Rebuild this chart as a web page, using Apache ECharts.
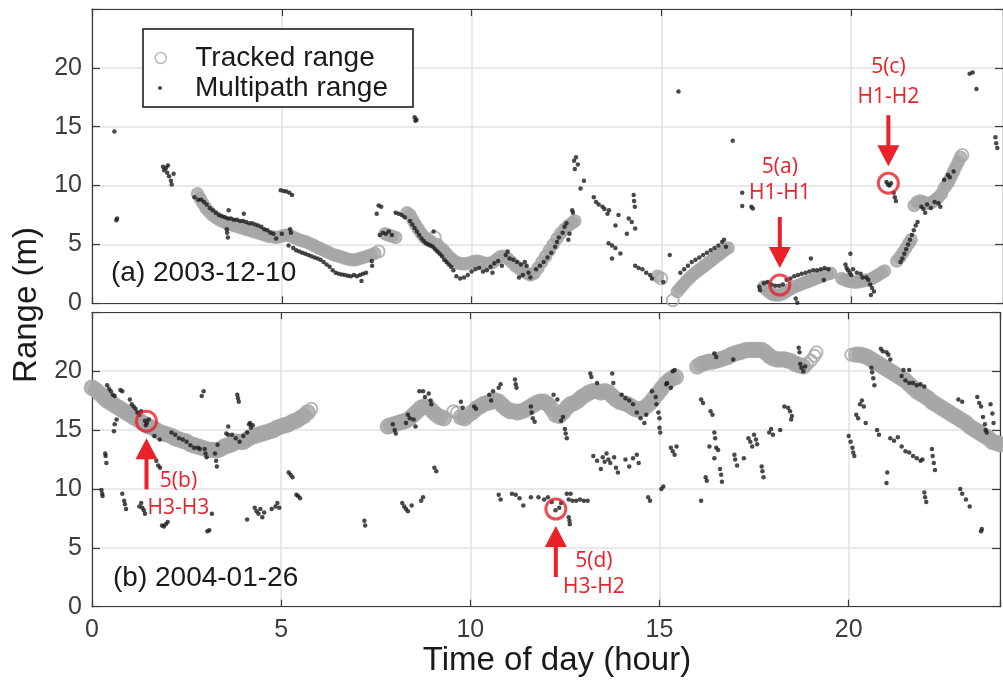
<!DOCTYPE html>
<html><head><meta charset="utf-8">
<script src="https://cdn.jsdelivr.net/npm/echarts@6/dist/echarts.min.js"></script>
<style>html,body{margin:0;padding:0;background:#fff}#c{width:1003px;height:682px}</style>
</head><body><div id="c"></div>
<script>
// ---------------- DATA ----------------
const xTickStep = 5;          // hours
const yTickStep = 5;          // metres
const xRange = [0, 24];
const yRange = [0, 25];
const panelLabels = ['(a) 2003-12-10', '(b) 2004-01-26'];
const seriesNames = ['Tracked range', 'Multipath range'];
const xTitle = 'Time of day (hour)';
const yTitle = 'Range (m)';

// Panel (a): tracked range (hour, metres)
const trackedA = [
 [2.78,9.3],[2.85,8.9],[2.92,8.5],[3.0,8.1],[3.08,7.8],[3.17,7.5],[3.26,7.3],[3.35,7.1],[3.45,6.95],[3.55,6.8],
 [3.65,6.7],[3.75,6.6],[3.85,6.5],[3.95,6.4],[4.05,6.3],[4.15,6.2],[4.25,6.1],[4.35,6.0],[4.45,5.9],[4.55,5.8],
 [4.65,5.7],[4.75,5.65],[4.85,5.6],[4.95,5.65],[5.05,5.75],[5.15,5.8],[5.25,5.7],[5.35,5.55],[5.45,5.4],[5.55,5.3],
 [5.65,5.2],[5.75,5.05],[5.85,4.9],[5.95,4.75],[6.05,4.6],[6.15,4.45],[6.25,4.3],[6.35,4.15],[6.45,4.05],[6.55,3.95],
 [6.65,3.85],[6.75,3.75],[6.85,3.7],[6.95,3.7],[7.05,3.8],[7.15,3.9],[7.25,4.0],[7.35,4.1],[7.45,4.25],
 [7.72,5.9],[7.8,5.8],[7.9,5.7],[8.0,5.6],
 [8.3,7.7],[8.38,7.5],[8.45,7.1],[8.52,6.7],[8.6,6.3],[8.68,5.9],[8.76,5.6],[8.84,5.4],[8.92,5.3],[9.1,5.0],
 [9.18,4.7],[9.26,4.5],[9.34,4.2],[9.42,3.9],[9.5,3.7],[9.58,3.5],[9.66,3.4],[9.75,3.35],[9.85,3.35],[9.95,3.45],
 [10.05,3.55],[10.15,3.6],[10.25,3.5],[10.35,3.4],[10.45,3.4],[10.55,3.45],[10.65,3.7],[10.75,3.95],[10.85,4.0],[10.95,3.8],
 [11.05,3.5],[11.15,3.2],[11.25,2.95],[11.35,2.75],[11.45,2.55],[11.55,2.4],[11.65,2.55],[11.75,3.0],[11.85,3.5],[11.95,4.0],
 [12.05,4.5],[12.15,5.0],[12.25,5.5],[12.35,5.95],[12.45,6.3],[12.55,6.6],[12.65,6.85],[12.72,7.0],
 [14.9,2.3],[15.42,1.0],[15.5,1.3],[15.58,1.6],[15.66,1.9],[15.74,2.15],[15.82,2.4],[15.9,2.6],[15.98,2.8],[16.06,3.0],
 [16.14,3.2],[16.22,3.4],[16.3,3.6],[16.38,3.8],[16.46,4.0],[16.54,4.2],[16.62,4.4],[16.7,4.6],[16.76,4.7],
 [17.7,1.4],[17.78,1.1],[17.86,0.9],[17.94,0.75],[18.02,0.7],[18.1,0.7],[18.18,0.8],[18.26,0.95],[18.34,1.1],[18.42,1.25],
 [18.5,1.4],[18.58,1.5],[18.66,1.6],[18.74,1.7],[18.82,1.8],[18.9,1.9],[18.98,2.0],[19.06,2.1],[19.14,2.2],[19.22,2.3],
 [19.3,2.4],[19.38,2.5],[19.46,2.55],
 [19.75,2.1],[19.83,2.0],[19.91,1.9],[19.99,1.85],[20.07,1.8],[20.15,1.8],[20.23,1.85],[20.31,1.9],[20.39,1.95],[20.47,2.0],
 [20.55,2.1],[20.63,2.25],[20.71,2.4],[20.8,2.6],[20.88,2.75],
 [21.2,3.6],[21.28,3.9],[21.36,4.3],[21.44,4.7],[21.52,5.1],[21.58,5.4],
 [21.66,8.3],[21.74,8.6],[21.82,8.7],[21.9,8.6],[21.98,8.5],[22.06,8.5],[22.14,8.6],[22.22,8.8],[22.3,9.0],[22.38,9.3],
 [22.45,9.8],[22.52,10.1],[22.58,10.4],[22.64,10.8],[22.7,11.2],[22.76,11.6],[22.82,12.0],[22.88,12.4]
];
// Panel (a): isolated tracked points (open circles)
const trackedAOpen = [[7.55,4.4],[9.03,5.6],[15.0,2.1],[15.3,0.25],[22.93,12.6]];

// Panel (a): multipath range
const multipathA = [
 [0.59,14.6],[0.64,7.06],[0.66,7.2],
 [1.87,11.6],[1.9,11.3],[1.95,11.5],[1.98,11.1],[2.03,10.8],[2.08,10.4],[2.1,10.1],[2.15,11.0],[2.0,11.7],
 [2.7,9.0],[2.8,8.8],[2.88,8.8],[2.95,8.6],[3.02,8.4],[3.1,8.1],[3.18,7.9],[3.26,7.7],[3.34,7.5],[3.42,7.4],[3.5,7.3],
 [3.58,7.2],[3.66,7.2],[3.74,7.1],[3.82,7.1],[3.9,7.0],[3.98,7.0],[4.06,6.9],[4.14,6.8],[4.22,6.8],[4.3,6.7],
 [4.38,6.6],[4.46,6.5],[4.54,6.3],[4.62,6.2],[4.7,6.0],[4.78,5.9],[3.55,6.3],[3.56,6.0],[3.58,5.6],[3.6,7.9],
 [4.0,7.6],[5.0,5.9],[4.85,5.5],
 [4.97,9.6],[5.05,9.55],[5.12,9.5],[5.2,9.4],[5.27,9.2],
 [5.22,6.3],[5.24,6.0],[5.18,4.9],
 [5.3,4.7],[5.38,4.5],[5.46,4.4],[5.54,4.3],[5.62,4.2],[5.7,4.1],[5.78,4.0],[5.86,3.9],[5.94,3.8],[6.02,3.7],
 [6.1,3.5],[6.18,3.3],[6.26,3.1],[6.34,2.8],[6.42,2.6],[6.5,2.5],[6.58,2.45],[6.66,2.4],[6.74,2.35],[6.82,2.3],
 [6.9,2.4],[6.98,2.3],[7.06,2.4],[7.14,2.5],[7.22,2.6],[7.1,1.9],[7.37,3.6],[7.38,3.2],
 [7.5,7.6],[7.62,8.2],[7.55,8.3],
 [7.58,5.8],[7.66,6.0],[7.74,5.9],[7.82,6.1],[7.9,5.8],
 [8.0,7.7],[8.08,7.6],[8.16,7.5],[8.24,7.3],
 [8.5,15.8],[8.55,15.6],[8.52,15.5],
 [8.38,7.0],[8.44,6.7],[8.5,6.4],[8.56,6.1],[8.62,5.8],[8.68,5.5],[8.74,5.3],[8.8,5.1],[8.86,5.0],[8.92,4.9],
 [8.98,4.8],[9.04,4.6],[9.1,4.4],[9.16,4.2],[9.22,4.0],[9.28,3.7],[9.34,3.5],[9.4,3.3],[9.46,3.1],[9.52,2.8],[9.0,6.1],
 [9.6,2.3],[9.7,2.1],[9.8,2.2],[9.9,2.4],
 [10.0,2.7],[10.1,2.9],[10.2,3.0],[10.3,2.7],[10.4,2.8],[10.5,3.1],[10.55,2.6],[10.6,3.4],[10.7,3.6],[10.8,3.2],
 [10.9,4.1],[10.95,4.4],[11.0,3.8],[11.1,3.7],[11.2,3.5],[11.3,3.3],[11.4,3.5],[11.45,3.2],
 [11.35,2.4],[11.5,2.6],[11.55,2.2],[11.25,2.2],
 [11.7,2.9],[11.8,3.2],[11.9,3.5],[12.0,3.9],[12.1,4.3],[12.2,4.8],[12.25,5.2],
 [12.3,5.6],[12.4,6.0],[12.45,6.5],[12.5,6.8],[12.65,7.9],[12.67,7.7],[12.58,5.9],[12.55,5.4],
 [12.7,12.1],[12.75,12.4],[12.8,11.8],[12.72,11.4],[12.96,10.4],[12.87,9.75],
 [13.22,9.0],[13.28,8.6],[13.35,8.4],[13.45,8.2],[13.5,8.0],[13.58,7.6],[13.62,7.9],
 [13.87,7.5],[13.79,6.6],[14.14,7.2],[14.22,6.9],[14.27,9.2],[14.28,8.7],[14.3,8.2],[14.31,6.35],[14.09,5.9],
 [13.61,5.1],[13.7,4.9],[13.79,4.7],[13.92,4.24],[13.7,3.8],
 [14.31,3.2],[14.4,3.0],[14.5,2.9],[14.6,2.6],[14.7,2.4],[14.75,2.1],
 [15.22,4.1],[15.05,1.8],[15.45,18.0],
 [15.5,2.6],[15.6,2.9],[15.7,3.2],[15.8,3.5],[15.9,3.7],[16.0,3.9],[16.1,4.1],[16.2,4.3],[16.3,4.5],[16.4,4.7],
 [16.5,4.9],[16.6,5.2],[16.65,5.4],[16.7,4.8],
 [16.88,13.8],[17.13,9.4],[17.13,8.27],[17.41,8.05],[17.37,8.2],
 [17.58,1.4],[17.6,1.1],
 [17.7,1.7],[17.8,1.8],[17.9,1.6],[18.0,1.5],[18.1,1.5],[18.2,1.6],
 [18.3,2.0],[18.4,2.1],[18.5,2.3],[18.6,2.4],[18.7,2.5],[18.8,2.6],[18.9,2.7],[19.0,2.8],[19.1,2.8],[19.2,2.9],
 [19.3,3.0],[19.4,2.9],[18.94,3.8],[19.28,1.97],[18.54,0.4],[18.58,0.05],
 [19.98,4.2],[19.85,3.3],[19.88,3.0],[19.92,2.8],[19.96,2.6],[20.0,2.4],[20.05,2.9],[20.15,2.6],[20.25,2.5],[20.3,2.2],
 [20.4,2.2],[20.45,2.0],[20.5,1.6],[20.55,1.3],[20.6,1.0],[20.52,0.7],
 [20.93,10.3],[20.97,10.1],[21.01,10.0],[21.05,10.2],[21.12,9.4],[21.15,9.0],[21.18,8.7],
 [21.3,3.5],[21.35,3.8],[21.4,4.2],[21.45,4.6],[21.5,5.0],[21.55,5.4],[21.6,5.8],[21.65,6.2],[21.7,6.6],[21.75,6.9],
 [21.85,8.2],[21.9,8.0],[21.95,7.7],[22.0,8.4],[22.1,8.1],[22.2,8.6],[22.3,8.5],[22.35,8.2],
 [22.45,10.5],[22.55,10.9],[22.6,10.7],[22.7,11.2],
 [23.12,19.5],[23.2,19.6],[23.3,18.2],
 [23.8,14.1],[23.82,13.6],[23.85,13.2]
];

// Panel (b): tracked range
const trackedB = [
 [0.0,18.6],[0.1,18.4],[0.2,18.1],[0.3,17.8],[0.4,17.5],[0.5,17.3],[0.6,17.1],[0.7,16.9],[0.8,16.7],[0.9,16.5],
 [1.0,16.3],[1.1,16.1],[1.2,15.9],[1.3,15.7],[1.4,15.5],[1.5,15.3],[1.6,15.2],[1.7,15.0],[1.8,14.8],[1.9,14.7],
 [2.0,14.6],[2.1,14.5],[2.2,14.3],[2.3,14.2],[2.4,14.1],[2.5,14.0],[2.6,13.8],[2.7,13.7],[2.8,13.6],[2.9,13.5],
 [3.0,13.4],[3.1,13.3],[3.2,13.3],[3.3,13.3],[3.4,13.4],[3.5,13.6],[3.6,13.7],[3.7,13.8],[3.8,14.0],[3.9,14.0],
 [4.0,14.0],[4.1,14.2],[4.2,14.4],[4.3,14.5],[4.4,14.6],[4.5,14.7],[4.6,14.8],[4.7,14.9],[4.8,15.0],[4.9,15.2],
 [5.0,15.3],[5.1,15.4],[5.2,15.5],[5.3,15.7],[5.4,15.8],[5.5,16.0],[5.6,16.2],[5.7,16.5],
 [7.82,15.3],[7.9,15.4],[8.0,15.5],[8.1,15.6],[8.2,15.7],[8.3,15.8],[8.4,16.0],[8.5,16.3],[8.6,16.6],[8.7,16.9],
 [8.8,17.0],[8.9,16.9],[9.0,16.6],[9.1,16.3],[9.2,16.1],[9.3,16.0],[9.75,16.1],[9.85,16.0],
 [10.05,16.5],[10.15,16.8],[10.25,17.0],[10.35,17.2],[10.45,17.3],[10.55,17.4],[10.65,17.5],[10.75,17.4],[10.85,17.1],[10.95,16.8],
 [11.05,16.6],[11.15,16.6],[11.25,16.5],[11.35,16.6],[11.45,16.7],[11.55,16.9],[11.65,17.1],[11.75,17.3],[11.85,17.4],[11.95,17.4],
 [12.05,17.2],[12.15,16.8],[12.25,16.3],[12.35,16.2],[12.45,16.5],[12.55,16.9],[12.65,17.2],[12.75,17.3],[12.85,17.5],[12.95,17.8],
 [13.05,18.0],[13.15,18.2],[13.25,18.3],[13.35,18.3],[13.45,18.2],[13.55,18.3],[13.65,18.2],[13.75,17.9],[13.85,17.6],[13.95,17.4],
 [14.05,17.3],[14.15,17.2],[14.25,17.0],[14.35,16.8],[14.45,16.7],[14.55,16.8],[14.65,17.0],[14.75,17.3],[14.85,17.7],[14.95,18.1],
 [15.05,18.5],[15.15,18.9],[15.25,19.2],[15.35,19.4],[15.43,19.5],
 [16.0,20.4],[16.1,20.6],[16.2,20.7],[16.3,20.8],[16.4,20.8],[16.5,20.9],[16.6,21.0],[16.7,21.1],[16.8,21.2],[16.9,21.4],
 [17.0,21.5],[17.1,21.6],[17.2,21.7],[17.3,21.8],[17.4,21.8],[17.5,21.8],[17.6,21.8],[17.7,21.8],[17.8,21.6],[17.9,21.3],
 [18.0,21.1],[18.1,21.0],[18.2,21.0],[18.3,21.0],[18.4,20.9],[18.5,20.8],[18.6,20.6],[18.7,20.5],[18.8,20.4],
 [20.2,21.4],[20.3,21.4],[20.4,21.3],[20.5,21.2],[20.6,21.0],[20.7,20.8],[20.8,20.6],[20.9,20.4],[21.0,20.2],[21.1,20.0],
 [21.2,19.8],[21.3,19.6],[21.4,19.4],[21.5,19.2],[21.6,18.9],[21.7,18.6],[21.8,18.3],[21.9,18.1],[22.0,17.9],[22.1,17.7],
 [22.2,17.4],[22.3,17.2],[22.4,17.0],[22.5,16.8],[22.6,16.6],[22.7,16.4],[22.8,16.2],[22.9,16.0],[23.0,15.8],[23.1,15.6],
 [23.2,15.3],[23.3,15.1],[23.4,14.9],[23.5,14.7],[23.6,14.5],[23.7,14.3],[23.8,14.0],[23.9,13.9],[24.0,13.8]
];
const trackedBOpen = [[5.8,16.8],[9.55,16.6],[9.65,16.5],[9.95,16.2],[18.9,20.6],[19.0,20.9],[19.1,21.3],[19.15,21.6],[20.07,21.4]];

// Panel (b): multipath range
const multipathB = [
 [0.4,18.8],[0.45,18.5],[0.5,18.3],[0.55,18.0],[0.6,17.9],[0.75,18.4],[0.8,18.3],
 [1.0,17.6],[1.05,17.2],[1.1,17.0],[1.15,16.8],[1.2,16.5],[1.25,16.3],[1.3,16.6],
 [0.65,15.9],[0.6,15.5],[0.58,14.9],
 [1.4,15.8],[1.45,15.6],[1.5,15.9],[1.42,15.4],
 [1.7,12.4],[1.75,12.0],[1.8,11.8],[1.65,14.5],[1.79,14.2],
 [0.35,13.0],[0.36,12.8],[0.38,12.2],
 [0.25,9.9],[0.27,9.6],[0.28,9.4],
 [0.8,9.6],[0.85,9.0],[0.87,8.7],[0.9,8.3],
 [1.25,8.5],[1.3,8.8],[1.33,8.4],[1.37,8.2],[1.4,7.9],
 [1.85,6.9],[1.9,6.8],[1.95,7.0],[2.0,7.2],
 [3.17,7.9],[3.05,6.4],[3.1,6.5],
 [2.9,17.9],[2.95,18.3],[3.84,18.0],[3.86,17.7],[3.88,17.4],
 [2.1,14.8],[2.2,14.6],[2.3,14.3],[2.4,14.2],[2.5,14.0],[2.6,13.7],[2.7,13.5],[2.8,13.5],[2.85,13.4],
 [2.98,13.4],[3.0,13.0],[3.03,12.7],[3.25,13.0],[3.28,12.4],[3.3,11.9],[3.32,13.75],
 [3.55,14.7],[3.6,14.6],[3.7,14.6],[3.8,14.3],[3.9,14.0],[4.0,14.5],[4.1,14.8],[4.2,15.2],[4.25,15.4],[4.15,15.5],
 [3.6,15.3],[4.18,15.6],
 [5.2,11.4],[5.25,11.2],[5.3,11.0],
 [5.4,9.5],[5.45,9.4],[5.5,9.2],
 [4.3,8.4],[4.35,8.1],[4.4,7.9],[4.45,8.3],[4.5,7.6],[4.55,8.0],
 [4.1,7.4],[4.75,8.3],[4.85,8.5],[4.9,8.8],[4.95,8.4],
 [7.2,7.3],[7.22,6.9],
 [7.95,15.5],[8.0,15.0],[8.03,14.7],
 [8.3,15.6],[8.35,16.3],[8.4,16.0],[8.5,15.9],[8.55,15.3],
 [8.65,18.3],[8.75,18.3],[8.8,17.8],[8.9,18.1],[8.95,17.5],[8.97,17.2],
 [9.05,11.8],[9.1,11.5],
 [8.75,9.3],[8.7,9.0],
 [8.2,8.8],[8.25,8.5],[8.3,8.3],[8.35,8.1],[8.45,8.6],
 [9.75,17.4],[9.8,16.9],[10.1,17.0],[10.15,16.8],
 [10.5,18.0],[10.55,17.5],[10.6,18.3],[10.75,18.6],[10.8,18.9],
 [11.18,19.3],[11.2,18.9],[11.22,18.6],
 [11.6,17.0],[11.62,16.5],[11.65,16.0],[11.7,15.7],
 [12.2,18.0],[12.3,17.6],[12.4,15.8],[12.45,16.1],
 [12.5,15.1],[12.52,14.7],[12.55,14.3],
 [13.17,19.8],[13.2,19.5],[13.35,19.0],
 [13.75,19.8],[13.78,19.0],
 [14.0,18.0],[14.1,17.7],[14.2,17.5],[14.3,17.2],
 [14.4,16.5],[14.5,16.0],[14.6,15.6],[14.65,16.3],
 [14.8,18.3],[14.9,17.8],[14.92,17.2],
 [14.97,16.5],[15.0,16.0],[15.0,15.2],[15.02,14.8],
 [15.35,20.0],[15.4,20.1],[15.2,19.0],[15.3,18.6],[15.18,18.9],
 [15.3,13.5],[15.35,13.2],[15.4,12.9],[15.45,13.6],
 [15.05,10.0],[15.1,10.2],
 [14.7,9.3],[14.75,9.0],
 [13.25,12.8],[13.35,12.4],[13.45,11.7],[13.5,12.7],[13.55,12.3],[13.6,13.0],[13.65,12.5],[13.7,12.2],
 [13.8,12.7],[13.85,11.8],[13.9,11.4],[14.1,12.5],[14.2,11.9],[14.3,12.6],[14.4,12.9],[14.45,12.2],
 [10.75,9.5],[10.8,9.1],[11.1,9.6],[11.2,9.5],[11.3,9.2],[11.4,8.6],[11.6,9.3],[11.8,9.3],[11.95,9.1],
 [12.05,9.3],[12.15,8.9],[12.4,8.8],[12.6,9.1],[12.7,9.0],[12.8,9.0],[12.9,9.1],[13.0,9.0],[13.1,9.0],
 [12.55,9.6],[12.65,9.6],[12.6,7.6],[12.62,7.3],[12.63,7.0],[12.25,8.2],[12.35,8.4],
 [16.45,21.5],[16.5,21.2],[16.95,21.0],
 [18.68,22.0],[18.7,21.6],[18.72,20.6],[18.75,20.3],[18.8,20.0],[18.85,20.4],
 [16.1,17.6],[16.15,17.3],[16.35,16.6],[16.4,16.3],
 [16.45,14.8],[16.47,14.3],[16.5,13.5],[16.55,13.3],[16.32,13.6],[16.45,12.6],
 [16.22,11.0],[16.25,10.7],[16.1,9.0],
 [16.6,11.7],[16.63,11.2],[16.65,10.6],
 [16.98,12.9],[17.0,12.5],[17.05,12.0],[17.23,12.6],
 [17.7,11.9],[17.72,11.5],[17.75,11.0],
 [17.35,14.3],[17.4,14.0],[17.45,13.6],[17.5,14.6],[17.55,14.2],[17.58,13.8],
 [17.9,14.8],[17.95,15.1],[18.0,14.6],[18.19,15.0],
 [18.3,17.0],[18.4,16.9],[18.45,16.6],[18.5,16.2],[18.48,15.9],
 [20.0,14.5],[20.05,14.0],[20.1,13.5],[20.12,13.1],[20.15,12.8],
 [20.2,16.3],[20.25,16.0],[20.3,17.2],[20.35,17.5],[20.4,17.0],[20.45,15.6],
 [20.6,20.3],[20.62,19.9],[20.65,19.4],[20.68,18.8],
 [20.85,21.9],[20.9,21.7],[21.0,21.6],[21.05,21.4],[21.1,21.0],
 [20.75,15.0],[20.8,14.6],
 [21.1,14.3],[21.2,14.1],[21.3,14.4],
 [21.4,13.6],[21.5,13.2],[21.6,13.1],[21.7,12.8],[21.8,12.6],[21.9,12.4],[21.95,12.5],
 [21.02,11.4],[21.0,10.5],
 [22.2,13.4],[22.22,12.8],[22.25,12.2],[22.28,11.6],
 [22.0,9.7],[22.02,9.3],[22.05,8.9],
 [22.95,10.0],[23.0,9.6],[23.1,9.1],[23.2,8.5],
 [23.5,6.4],[23.52,6.6],
 [21.4,19.6],[21.5,19.2],[21.6,19.0],[21.7,19.0],[21.8,18.8],[21.9,18.9],[22.0,18.7],[21.45,20.1],[21.6,20.1],
 [22.9,17.6],[23.0,17.4],
 [23.4,17.8],[23.45,17.3],[23.5,17.0],
 [23.55,16.1],[23.6,15.5],[23.62,15.0],[23.65,14.8],
 [23.75,17.2],[23.8,16.4],[23.83,15.6]
];

// Highlighted events (hour, metres)
const eventPanels = [0, 0, 1, 1];
const eventPoints = [[18.12,1.55],[20.98,10.2],[1.44,15.74],[12.26,8.29]];
const eventNames = ['5(a)', '5(c)', '5(b)', '5(d)'];
const eventPairs = ['H1-H1', 'H1-H2', 'H3-H3', 'H3-H2'];

// ---------------- STYLE / LAYOUT ----------------
const GRAY = '#a6a6a9';
const DOT = '#1c1c1c';
const RED = '#ea2129';
const AXIS = '#3a3a3a';
const FONT = "'Liberation Sans', Arial, sans-serif";
const grids = [
  {left: 92, top: 9, right: -5.5, height: 294.3},
  {left: 92, top: 312.3, right: -5.5, height: 294.4}
];

const chart = echarts.init(document.getElementById('c'), null, {renderer: 'canvas'});

function xAxes(gi, showLabel) {
  const line = {show: true, onZero: false, lineStyle: {color: AXIS, width: 1.2}};
  const tick = {show: true, inside: true, length: 7, lineStyle: {color: AXIS, width: 1.2}};
  return [
    {type: 'value', gridIndex: gi, position: 'bottom', min: xRange[0], max: xRange[1], interval: xTickStep,
     axisLine: line, axisTick: tick,
     axisLabel: {show: showLabel, fontFamily: FONT, fontSize: 25, color: '#3c3c3c', margin: 11,
                 formatter: v => (v % xTickStep === 0 ? String(v) : '')},
     splitLine: {show: true, lineStyle: {color: '#e2e2e2', width: 1.5}}},
    {type: 'value', gridIndex: gi, position: 'top', min: xRange[0], max: xRange[1], interval: xTickStep,
     axisLine: line, axisTick: tick, axisLabel: {show: false}, splitLine: {show: false}}
  ];
}
function yAxes(gi) {
  const line = {show: true, onZero: false, lineStyle: {color: AXIS, width: 1.2}};
  const tick = {show: true, inside: true, length: 8, lineStyle: {color: AXIS, width: 1.2}};
  return [
    {type: 'value', gridIndex: gi, position: 'left', min: yRange[0], max: yRange[1], interval: yTickStep,
     axisLine: line, axisTick: tick,
     axisLabel: {show: true, fontFamily: FONT, fontSize: 25, color: '#3c3c3c', margin: 10,
                 formatter: v => (v < yRange[1] ? String(v) : '')},
     splitLine: {show: true, lineStyle: {color: '#e2e2e2', width: 1.5}}},
    {type: 'value', gridIndex: gi, position: 'right', min: yRange[0], max: yRange[1], interval: yTickStep,
     axisLine: line, axisTick: tick, axisLabel: {show: false}, splitLine: {show: false}}
  ];
}

function tracked(data, gi, size) {
  return {name: seriesNames[0], type: 'scatter', xAxisIndex: gi * 2, yAxisIndex: gi * 2, data: data,
    symbol: 'circle', symbolSize: size, z: 2, silent: true,
    itemStyle: {color: GRAY, borderColor: GRAY, borderWidth: 1.5}};
}
function trackedOpen(data, gi, size) {
  return {name: seriesNames[0], type: 'scatter', xAxisIndex: gi * 2, yAxisIndex: gi * 2, data: data,
    symbol: 'circle', symbolSize: size, z: 2, silent: true,
    itemStyle: {color: 'rgba(255,255,255,0)', borderColor: GRAY, borderWidth: 2}};
}
function multipath(data, gi) {
  return {name: seriesNames[1], type: 'scatter', xAxisIndex: gi * 2, yAxisIndex: gi * 2, data: data,
    symbol: 'circle', symbolSize: 4.5, z: 3, silent: true, itemStyle: {color: DOT}};
}
function events(gi) {
  const pts = eventPoints.filter((p, i) => eventPanels[i] === gi);
  return {name: 'events', type: 'scatter', xAxisIndex: gi * 2, yAxisIndex: gi * 2, data: pts,
    symbol: 'circle', symbolSize: 20, z: 5, silent: true,
    itemStyle: {color: 'rgba(255,255,255,0)', borderColor: RED, borderWidth: 3}};
}

const legendText = {fontFamily: FONT, fontSize: 28, color: '#1a1a1a'};
chart.setOption({
  animation: false,
  backgroundColor: '#fff',
  grid: grids,
  xAxis: [...xAxes(0, false), ...xAxes(1, true)],
  yAxis: [...yAxes(0), ...yAxes(1)],
  legend: [
    {data: [{name: seriesNames[0], icon: 'circle',
             itemStyle: {color: 'rgba(255,255,255,0)', borderColor: GRAY, borderWidth: 1.5}}],
     left: 149.5, top: 39, itemWidth: 11, itemHeight: 11, selectedMode: false, z: 6,
     textStyle: Object.assign({padding: [0, 0, 0, 24]}, legendText)},
    {data: [{name: seriesNames[1], icon: 'circle', itemStyle: {color: DOT}}],
     left: 153, top: 69, itemWidth: 4, itemHeight: 4, selectedMode: false, z: 6,
     textStyle: Object.assign({padding: [0, 0, 0, 28]}, legendText)}
  ],
  series: [
    tracked(trackedA, 0, 12), trackedOpen(trackedAOpen, 0, 12), multipath(multipathA, 0), events(0),
    tracked(trackedB, 1, 15), trackedOpen(trackedBOpen, 1, 12), multipath(multipathB, 1), events(1)
  ]
});

// ---------- annotations (arrows + labels) placed through the axes ----------
const labelOffsets = [ // [dx, dy line1, dy line2] relative to event circle
  [0, -118, -92], [0, -116, -86], [32, 60, 87], [38, 52, 78]
];
const arrowDir = [-1, -1, 1, 1];
const g = [];
const redFont = "21px 'Open Sans', sans-serif";
eventPoints.forEach((p, i) => {
  const c = chart.convertToPixel({gridIndex: eventPanels[i]}, p);
  const d = arrowDir[i];
  const tipY = c[1] + d * 17, tailY = c[1] + d * 68, baseY = tipY + d * 20;
  g.push({type: 'line', z: 10, shape: {x1: c[0], y1: tailY, x2: c[0], y2: baseY},
          style: {stroke: RED, lineWidth: 4}});
  g.push({type: 'polygon', z: 10, shape: {points: [[c[0], tipY], [c[0] - 11, baseY + d * 1], [c[0] + 11, baseY + d * 1]]},
          style: {fill: RED}});
  const o = labelOffsets[i];
  g.push({type: 'text', z: 10, x: c[0] + o[0], y: c[1] + o[1],
          style: {text: eventNames[i], fill: RED, font: redFont, align: 'center', verticalAlign: 'middle'}});
  g.push({type: 'text', z: 10, x: c[0] + o[0], y: c[1] + o[2],
          style: {text: eventPairs[i], fill: RED, font: redFont, align: 'center', verticalAlign: 'middle'}});
});
// legend frame
g.push({type: 'rect', z: 4, shape: {x: 143, y: 29, width: 270, height: 78},
        style: {fill: '#fff', stroke: '#111', lineWidth: 1.5}});
// panel labels
g.push({type: 'text', z: 5, x: 111, y: 273, style: {text: panelLabels[0], fill: '#1a1a1a', font: "28px " + FONT, verticalAlign: 'middle'}});
g.push({type: 'text', z: 5, x: 113, y: 578, style: {text: panelLabels[1], fill: '#1a1a1a', font: "28px " + FONT, verticalAlign: 'middle'}});
// axis titles
g.push({type: 'text', z: 5, x: 557, y: 661, style: {text: xTitle, fill: '#1a1a1a', font: "33px " + FONT, align: 'center', verticalAlign: 'middle'}});
g.push({type: 'text', z: 5, x: 27, y: 305, rotation: Math.PI / 2,
        style: {text: yTitle, fill: '#1a1a1a', font: "33px " + FONT, align: 'center', verticalAlign: 'middle'}});
chart.setOption({graphic: g});
</script>
</body></html>
